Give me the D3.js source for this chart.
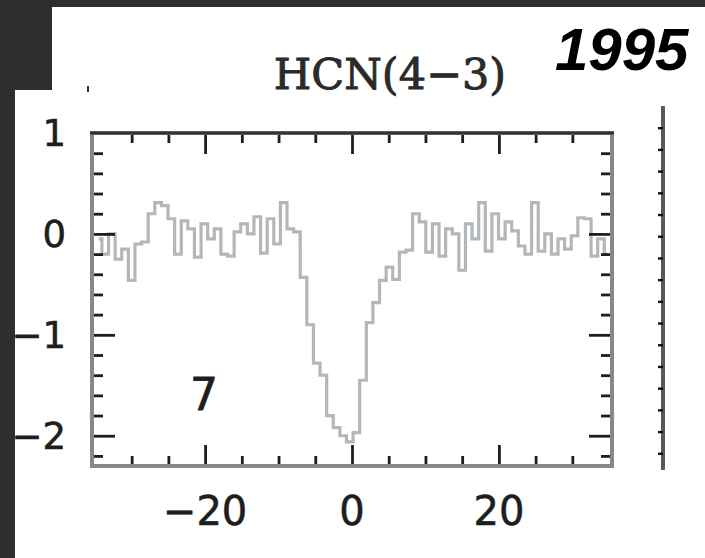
<!DOCTYPE html>
<html>
<head>
<meta charset="utf-8">
<script src="https://cdn.jsdelivr.net/npm/d3@7"></script>
<style>
  html, body { margin: 0; padding: 0; background: #2e2e2e; }
  svg { display: block; }
</style>
</head>
<body>
<script>
// ---- Data ----
const velocities = [
  -34.5, -33.6, -32.7, -31.8, -30.9, -30.0, -29.1, -28.2, -27.3, -26.4,
  -25.5, -24.6, -23.7, -22.8, -21.9, -21.0, -20.1, -19.2, -18.3, -17.4,
  -16.5, -15.6, -14.7, -13.8, -12.9, -12.0, -11.1, -10.2, -9.3, -8.4,
  -7.5, -6.6, -5.7, -4.8, -3.9, -3.0, -2.1, -1.2, -0.3, 0.6,
  1.5, 2.4, 3.3, 4.2, 5.1, 6.0, 6.9, 7.8, 8.7, 9.6,
  10.5, 11.4, 12.3, 13.2, 14.1, 15.0, 15.9, 16.8, 17.7, 18.6,
  19.5, 20.4, 21.3, 22.2, 23.1, 24.0, 24.9, 25.8, 26.7, 27.6,
  28.5, 29.4, 30.3, 31.2, 32.1, 33.0, 33.9, 34.8
];
const intensity = [
  -0.05, -0.20, 0.00, -0.25, -0.15, -0.46, -0.10, -0.08, 0.20, 0.31,
  0.28, 0.15, -0.20, 0.13, 0.05, -0.23, 0.10, -0.05, 0.05, -0.20,
  -0.22, 0.02, 0.10, 0.00, 0.17, -0.19, 0.15, -0.10, 0.31, 0.05,
  0.02, -0.43, -0.90, -1.28, -1.40, -1.80, -1.92, -2.00, -2.06, -1.97,
  -1.45, -0.88, -0.68, -0.46, -0.33, -0.45, -0.18, -0.16, 0.20, 0.12,
  -0.18, 0.10, -0.22, 0.05, 0.00, -0.36, 0.10, -0.05, 0.31, -0.17,
  0.20, -0.05, 0.12, 0.03, -0.12, -0.20, 0.31, -0.17, 0.00, -0.20,
  -0.05, -0.15, -0.02, 0.16, 0.15, -0.22, -0.05, -0.20
];

const xTickValues = [-30, -25, -20, -15, -10, -5, 0, 5, 10, 15, 20, 25, 30];
const xMajorTicks = [-20, 0, 20];
const xTickLabels = ["\u221220", "0", "20"];
const yTickValues = [0.8, 0.6, 0.4, 0.2, 0.0, -0.2, -0.4, -0.6, -0.8, -1.0,
                     -1.2, -1.4, -1.6, -1.8, -2.0, -2.2];
const yMajorTicks = [1, 0, -1, -2];
const yTickLabels = ["1", "0", "\u22121", "\u22122"];
const rightEdgeTicks = [1.0, 0.8, 0.6, 0.4, 0.2, 0.0, -0.2, -0.4, -0.6, -0.8,
                        -1.0, -1.2, -1.4, -1.6, -1.8, -2.0];
const titleText = "HCN(4\u22123)";
const yearText = "1995";
const panelLabel = "7";

// ---- Layout ----
const W = 705, H = 558;
const svg = d3.select("body").append("svg").attr("width", W).attr("height", H);

// white paper panels
svg.append("rect").attr("x", 52).attr("y", 7).attr("width", W - 52).attr("height", H - 7).attr("fill", "#fff");
svg.append("rect").attr("x", 15).attr("y", 90).attr("width", W - 15).attr("height", H - 90).attr("fill", "#fff");

const frame = { left: 92, right: 612, top: 133, bottom: 466 };
const x = d3.scaleLinear().domain([-35.4, 35.4]).range([frame.left, frame.right]);
const y = d3.scaleLinear().domain([1, -2.3]).range([frame.top, frame.bottom]);

const tickColor = "#1e1e1e";

// spectrum
const line = d3.line()
  .x((d, i) => x(velocities[i]))
  .y(d => y(d))
  .curve(d3.curveStep);
svg.append("path")
  .datum(intensity)
  .attr("d", line)
  .attr("fill", "none")
  .attr("stroke", "#b3b7ba")
  .attr("stroke-width", 3.2)
  .attr("stroke-linejoin", "miter");

// axes (inward ticks) built with d3 axes
const gTicks = svg.append("g");
function styleAxis(g) {
  g.select(".domain").remove();
  g.selectAll("text").remove();
  g.selectAll("line").attr("stroke", tickColor).attr("stroke-width", 2.8);
}
const xMinor = xTickValues.filter(v => !xMajorTicks.includes(v));
// bottom
gTicks.append("g").attr("transform", `translate(0,${frame.bottom})`)
  .call(d3.axisTop(x).tickValues(xMinor).tickSize(10)).call(styleAxis);
gTicks.append("g").attr("transform", `translate(0,${frame.bottom})`)
  .call(d3.axisTop(x).tickValues(xMajorTicks).tickSize(21)).call(styleAxis);
// top
gTicks.append("g").attr("transform", `translate(0,${frame.top})`)
  .call(d3.axisBottom(x).tickValues(xMinor).tickSize(10)).call(styleAxis);
gTicks.append("g").attr("transform", `translate(0,${frame.top})`)
  .call(d3.axisBottom(x).tickValues(xMajorTicks).tickSize(21)).call(styleAxis);
// left
const yMinor = yTickValues.filter(v => !yMajorTicks.some(m => Math.abs(m - v) < 1e-9));
gTicks.append("g").attr("transform", `translate(${frame.left},0)`)
  .call(d3.axisRight(y).tickValues(yMinor).tickSize(11)).call(styleAxis);
gTicks.append("g").attr("transform", `translate(${frame.left},0)`)
  .call(d3.axisRight(y).tickValues(yMajorTicks.filter(v => v < 1)).tickSize(23)).call(styleAxis);
// right
gTicks.append("g").attr("transform", `translate(${frame.right},0)`)
  .call(d3.axisLeft(y).tickValues(yMinor).tickSize(11)).call(styleAxis);
gTicks.append("g").attr("transform", `translate(${frame.right},0)`)
  .call(d3.axisLeft(y).tickValues(yMajorTicks.filter(v => v < 1)).tickSize(23)).call(styleAxis);

// frame
svg.append("rect")
  .attr("x", frame.left).attr("y", frame.top)
  .attr("width", frame.right - frame.left).attr("height", frame.bottom - frame.top)
  .attr("fill", "none").attr("stroke", "#888").attr("stroke-width", 4);
svg.append("line")
  .attr("x1", frame.left - 2).attr("x2", frame.right + 2)
  .attr("y1", frame.top).attr("y2", frame.top)
  .attr("stroke", "#333").attr("stroke-width", 3.2);

// tick labels
const labelFont = "'DejaVu Sans', sans-serif";
svg.append("g").selectAll("text")
  .data(yMajorTicks)
  .join("text")
  .attr("x", 66)
  .attr("y", d => y(d))
  .attr("dy", "0.36em")
  .attr("text-anchor", "end")
  .attr("font-family", labelFont)
  .attr("font-size", 37)
  .attr("fill", "#1e1e1e")
  .attr("stroke", "#1e1e1e").attr("stroke-width", 0.6)
  .text((d, i) => yTickLabels[i]);

svg.append("g").selectAll("text")
  .data(xMajorTicks)
  .join("text")
  .attr("x", d => x(d))
  .attr("y", 525)
  .attr("text-anchor", "middle")
  .attr("font-family", labelFont)
  .attr("font-size", 40)
  .attr("fill", "#1e1e1e")
  .attr("stroke", "#1e1e1e").attr("stroke-width", 0.6)
  .text((d, i) => xTickLabels[i]);

// panel number
svg.append("text")
  .attr("x", 204).attr("y", 410)
  .attr("text-anchor", "middle")
  .attr("font-family", labelFont)
  .attr("font-size", 44)
  .attr("fill", "#1e1e1e")
  .attr("stroke", "#1e1e1e").attr("stroke-width", 0.8)
  .text(panelLabel);

// title
svg.append("text")
  .attr("x", 390).attr("y", 89)
  .attr("text-anchor", "middle")
  .attr("font-family", "'DejaVu Serif', serif")
  .attr("font-size", 43)
  .attr("fill", "#2a2a2a")
  .attr("stroke", "#2a2a2a").attr("stroke-width", 0.9)
  .text(titleText);

// year stamp
svg.append("text")
  .attr("x", 555).attr("y", 70)
  .attr("font-family", "'Liberation Sans', Arial, sans-serif")
  .attr("font-weight", "bold")
  .attr("font-style", "italic")
  .attr("font-size", 60)
  .attr("fill", "#000")
  .text(yearText);

// neighbouring panel edge on the right
const yRight = d3.scaleLinear().domain([1.2, -2.2]).range([106, 475]);
svg.append("line")
  .attr("x1", 663).attr("x2", 663)
  .attr("y1", yRight(1.2)).attr("y2", yRight(-2.2) - 5)
  .attr("stroke", "#5a5a5a").attr("stroke-width", 4);
svg.append("g").attr("transform", "translate(663,0)")
  .call(d3.axisLeft(yRight).tickValues(rightEdgeTicks).tickSize(5))
  .call(g => { g.select(".domain").remove(); g.selectAll("text").remove();
               g.selectAll("line").attr("stroke", "#111").attr("stroke-width", 2.4); });

// small stray mark at top-left of the lower sheet
svg.append("line")
  .attr("x1", 88).attr("x2", 88).attr("y1", 86).attr("y2", 92)
  .attr("stroke", "#333").attr("stroke-width", 2);
</script>
</body>
</html>
